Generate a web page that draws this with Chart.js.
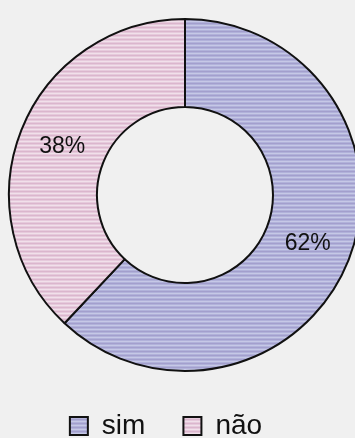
<!DOCTYPE html>
<html>
<head>
<meta charset="utf-8">
<script src="https://cdn.jsdelivr.net/npm/chart.js@4.4.1/dist/chart.umd.min.js"></script>
<style>
  html, body { margin: 0; padding: 0; background: #f0f0f0; overflow: hidden; }
  #wrap { width: 370px; height: 450px; position: relative; }
</style>
</head>
<body>
<div id="wrap"><canvas id="respostasChart"></canvas></div>
<script>
const categorias = ['sim', 'não'];
const percentuais = [62, 38];

// striped fill, like the printed hatch of the original graphic
function stripes(base, light, dark) {
    const c = document.createElement('canvas');
    c.width = 6; c.height = 4;
    const g = c.getContext('2d');
    g.fillStyle = base; g.fillRect(0, 0, 6, 4);
    g.fillStyle = light; g.fillRect(0, 1, 6, 1);
    g.fillStyle = dark; g.fillRect(0, 3, 6, 1);
    return g.createPattern(c, 'repeat');
}

const fundos = [
    stripes('#b1b2da', '#c6c8e6', '#a39fcd'),
    stripes('#e6cadc', '#f1e0ea', '#dbb6cd')
];

// percent labels in the middle of each ring segment
const rotulos = {
    id: 'rotulos',
    afterDatasetsDraw(chart) {
        const { ctx } = chart;
        const meta = chart.getDatasetMeta(0);
        ctx.save();
        ctx.font = '23px "Liberation Sans", Arial, sans-serif';
        ctx.fillStyle = '#111';
        ctx.textAlign = 'center';
        ctx.textBaseline = 'middle';
        meta.data.forEach((arc, i) => {
            const p = arc.tooltipPosition();
            ctx.fillText(percentuais[i] + '%', p.x, p.y);
        });
        ctx.restore();
    }
};

// legend sits a bit left of the ring centre
const deslocaLegenda = {
    id: 'deslocaLegenda',
    afterLayout(chart) {
        const lg = chart.legend;
        if (!lg) return;
        lg.left -= 19;
        lg.right -= 19;
    }
};

new Chart(document.getElementById('respostasChart'), {
    type: 'doughnut',
    data: {
        labels: categorias,
        datasets: [{
            data: percentuais,
            backgroundColor: fundos,
            borderColor: '#111',
            borderWidth: 2,
            borderAlign: 'center'
        }]
    },
    options: {
        responsive: true,
        maintainAspectRatio: false,
        animation: false,
        cutout: '50%',
        layout: { padding: { left: 8, right: 8, top: 16, bottom: 0 } },
        plugins: {
            legend: {
                position: 'bottom',
                labels: {
                    boxWidth: 18,
                    boxHeight: 18,
                    padding: 38,
                    color: '#111',
                    font: { size: 28, family: '"Liberation Sans", Arial, sans-serif' }
                }
            },
            tooltip: { enabled: false }
        }
    },
    plugins: [rotulos, deslocaLegenda]
});
</script>
</body>
</html>
